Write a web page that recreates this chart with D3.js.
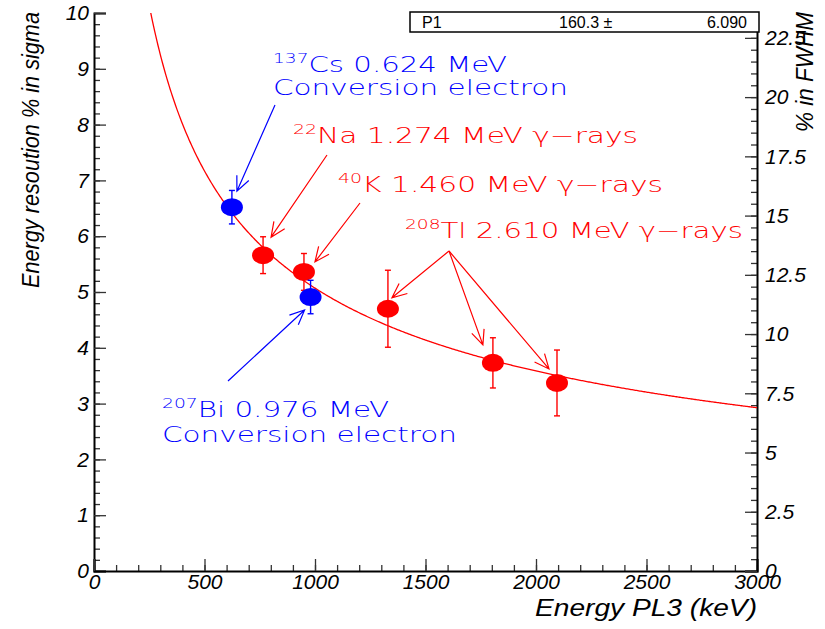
<!DOCTYPE html>
<html>
<head>
<meta charset="utf-8">
<script src="https://cdn.jsdelivr.net/npm/d3@7"></script>
<style>
  body { margin: 0; background: #fff; }
  text { font-family: "Liberation Sans", Arial, sans-serif; }
  .tick text { font-style: italic; font-size: 21px; fill: #000; }
  .note { font-family: "DejaVu Sans", sans-serif; font-weight: 200; }
</style>
</head>
<body>
<script>
/* DATA */
const sources   = ["137Cs", "22Na", "40K", "207Bi", "208Tl", "208Tl", "208Tl"];
const kind      = ["electron", "gamma", "gamma", "electron", "gamma", "gamma", "gamma"];
const energy    = [624, 765, 950, 980, 1330, 1805, 2095];      // keV (PL3)
const sigma     = [6.52, 5.66, 5.36, 4.91, 4.70, 3.73, 3.37];  // % in sigma
const sigmaErr  = [0.30, 0.33, 0.33, 0.30, 0.69, 0.45, 0.59];

const xTicks = [0, 500, 1000, 1500, 2000, 2500, 3000];
const yTicks = [0, 1, 2, 3, 4, 5, 6, 7, 8, 9, 10];
const y2Ticks = [0, 2.5, 5, 7.5, 10, 12.5, 15, 17.5, 20, 22.5];

// fit: sigma% = P1 / sqrt(E)
const fitName = "P1", fitValue = 160.3, fitError = 6.090;
const fwhmFactor = 2.355;

/* LAYOUT */
var margin = {top: 13, right: 68, bottom: 58, left: 94},
    W = 825, H = 629,
    width = W - margin.left - margin.right,
    height = H - margin.top - margin.bottom;

var color = {electron: "#0000ff", gamma: "#ff0000"};

var x = d3.scaleLinear().domain([0, 3000]).range([0, width]);
var y = d3.scaleLinear().domain([0, 10]).range([height, 0]);
var y2 = d3.scaleLinear().domain([0, 10 * fwhmFactor]).range([height, 0]);

var svg = d3.select("body").append("svg")
    .attr("width", W).attr("height", H);

svg.append("defs").append("clipPath").attr("id", "clip")
  .append("rect").attr("width", width).attr("height", height);

var g = svg.append("g")
    .attr("transform", "translate(" + margin.left + "," + margin.top + ")");

// minor ticks
g.append("g").attr("class", "minor")
    .call(d3.axisLeft(y).tickValues(d3.range(0, 10.001, 0.2)).tickSize(-6).tickFormat(""));
g.append("g").attr("class", "minor")
    .attr("transform", "translate(0," + height + ")")
    .call(d3.axisBottom(x).tickValues(d3.range(0, 3001, 100)).tickSize(-6).tickFormat(""));
g.append("g").attr("class", "minor")
    .attr("transform", "translate(" + width + ",0)")
    .call(d3.axisRight(y2).tickValues(d3.range(0, 23.51, 0.5)).tickSize(-6).tickFormat(""));

// major ticks
g.append("g")
    .call(d3.axisLeft(y).tickValues(yTicks).tickSize(-12).tickPadding(5).tickFormat(d3.format("d")));
g.append("g")
    .attr("transform", "translate(0," + height + ")")
    .call(d3.axisBottom(x).tickValues(xTicks).tickSize(-12).tickPadding(3).tickFormat(d3.format("d")));
g.append("g")
    .attr("transform", "translate(" + width + ",0)")
    .call(d3.axisRight(y2).tickValues(y2Ticks).tickSize(-12).tickPadding(8)
      .tickFormat(d => d % 1 ? d.toFixed(1) : d));

g.selectAll(".domain").attr("stroke", "#000").attr("stroke-width", 2);
g.selectAll(".tick line").attr("stroke", "#333").attr("stroke-width", 1.3);
g.selectAll(".minor .domain").remove();

// fit curve
var fitLine = d3.line()
    .x(function(e) { return x(e); })
    .y(function(e) { return y(fitValue / Math.sqrt(e)); });
g.append("path")
    .datum(d3.range(240, 3001, 5))
    .attr("clip-path", "url(#clip)")
    .attr("fill", "none")
    .attr("stroke", "#ff0000")
    .attr("stroke-width", 1.3)
    .attr("d", fitLine);

// error bars + points
var pts = g.selectAll(".pt").data(energy.map(function(e, i) { return i; }))
  .enter().append("g").attr("class", "pt");
pts.append("line")
    .attr("x1", i => x(energy[i])).attr("x2", i => x(energy[i]))
    .attr("y1", i => y(sigma[i] + sigmaErr[i])).attr("y2", i => y(sigma[i] - sigmaErr[i]))
    .attr("stroke", i => color[kind[i]]).attr("stroke-width", 1.4);
[1, -1].forEach(function(s) {
  pts.append("line")
      .attr("x1", i => x(energy[i]) - 3).attr("x2", i => x(energy[i]) + 3)
      .attr("y1", i => y(sigma[i] + s * sigmaErr[i])).attr("y2", i => y(sigma[i] + s * sigmaErr[i]))
      .attr("stroke", i => color[kind[i]]).attr("stroke-width", 1.4);
});
pts.append("ellipse")
    .attr("cx", i => x(energy[i])).attr("cy", i => y(sigma[i]))
    .attr("rx", 11).attr("ry", 9)
    .attr("fill", i => color[kind[i]]);

// annotations
function arrow(x1, y1, x2, y2, col) {
  var a = Math.atan2(y2 - y1, x2 - x1), L = 16, h = 0.42;
  g.append("path")
    .attr("fill", "none").attr("stroke", col).attr("stroke-width", 1.2)
    .attr("d", "M" + x1 + "," + y1 + "L" + x2 + "," + y2 +
      "M" + (x2 - L * Math.cos(a - h)) + "," + (y2 - L * Math.sin(a - h)) +
      "L" + x2 + "," + y2 +
      "L" + (x2 - L * Math.cos(a + h)) + "," + (y2 - L * Math.sin(a + h)));
}
function label(px, py, sup, rest, len, col) {
  var t = svg.append("text").attr("class", "note")
      .attr("x", px).attr("y", py)
      .attr("fill", col).attr("font-size", 22)
      .attr("textLength", len).attr("lengthAdjust", "spacingAndGlyphs");
  if (sup) {
    t.append("tspan").attr("font-size", 14).attr("dy", -9).text(sup);
    t.append("tspan").attr("dy", 9).text(rest);
  } else {
    t.text(rest);
  }
}
function tip(i, dx, dy) { return [x(energy[i]) + dx, y(sigma[i]) + dy]; }

var blue = color.electron, red = color.gamma;
var notes = [
  {from: [275 - margin.left, 105 - margin.top], i: 0, d: [5, -16], col: blue},
  {from: [327 - margin.left, 155 - margin.top], i: 1, d: [8, -18], col: red},
  {from: [360 - margin.left, 203 - margin.top], i: 2, d: [11, -10], col: red},
  {from: [228 - margin.left, 381 - margin.top], i: 3, d: [-6, 13], col: blue},
  {from: [449 - margin.left, 251 - margin.top], i: 4, d: [4, -11], col: red},
  {from: [449 - margin.left, 251 - margin.top], i: 5, d: [-10, -18], col: red},
  {from: [449 - margin.left, 251 - margin.top], i: 6, d: [-8, -14], col: red}
];
notes.forEach(function(n) {
  var t = tip(n.i, n.d[0], n.d[1]);
  arrow(n.from[0], n.from[1], t[0], t[1], n.col);
});

label(273, 72, "137", "Cs 0.624 MeV", 234, blue);
label(273, 95, null, "Conversion electron", 295, blue);
label(293, 143, "22", "Na 1.274 MeV \u03b3\u2212rays", 345, red);
label(338, 192, "40", "K 1.460 MeV \u03b3\u2212rays", 325, red);
label(405, 238, "208", "Tl 2.610 MeV \u03b3\u2212rays", 338, red);
label(162, 417, "207", "Bi 0.976 MeV", 227, blue);
label(162, 442, null, "Conversion electron", 295, blue);

// stats box
svg.append("rect")
    .attr("x", 410).attr("y", 12).attr("width", 349).attr("height", 20)
    .attr("fill", "#fff").attr("stroke", "#000").attr("stroke-width", 1.5);
svg.append("text").attr("x", 422).attr("y", 28).attr("font-size", 16).text(fitName);
svg.append("text").attr("x", 559).attr("y", 28).attr("font-size", 16).text(fitValue.toFixed(1) + " \u00b1");
svg.append("text").attr("x", 747).attr("y", 28).attr("font-size", 16)
    .attr("text-anchor", "end").text(fitError.toFixed(3));

// axis titles
svg.append("text")
    .attr("transform", "translate(39,12) rotate(-90)")
    .attr("text-anchor", "end").attr("font-style", "italic").attr("font-size", 23)
    .attr("textLength", 276).attr("lengthAdjust", "spacingAndGlyphs")
    .text("Energy resoution % in sigma");
svg.append("text")
    .attr("x", 757).attr("y", 616)
    .attr("text-anchor", "end").attr("font-style", "italic").attr("font-size", 23)
    .attr("textLength", 222).attr("lengthAdjust", "spacingAndGlyphs")
    .text("Energy PL3 (keV)");
svg.append("text")
    .attr("transform", "translate(813,12) rotate(-90)")
    .attr("text-anchor", "end").attr("font-style", "italic").attr("font-size", 23)
    .attr("textLength", 120).attr("lengthAdjust", "spacingAndGlyphs")
    .text("% in FWHM");
</script>
</body>
</html>
